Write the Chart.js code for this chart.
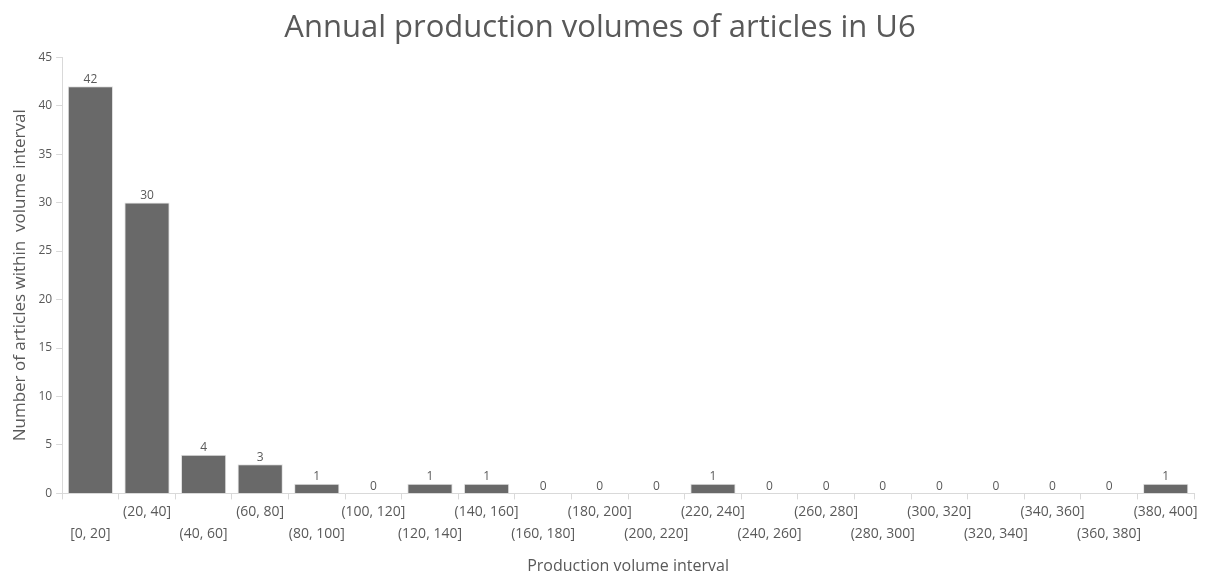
<!DOCTYPE html>
<html>
<head>
<meta charset="utf-8">
<script src="https://cdn.jsdelivr.net/npm/chart.js@4/dist/chart.umd.min.js"></script>
<style>
  html, body { margin: 0; padding: 0; background: #fff; }
  #wrap { width: 1206px; height: 578px; }
</style>
</head>
<body>
<div id="wrap"><canvas id="histChart"></canvas></div>
<script>
// Volume intervals and how many articles fall into each
const intervals = ['[0, 20]', '(20, 40]', '(40, 60]', '(60, 80]', '(80, 100]', '(100, 120]',
  '(120, 140]', '(140, 160]', '(160, 180]', '(180, 200]', '(200, 220]', '(220, 240]',
  '(240, 260]', '(260, 280]', '(280, 300]', '(300, 320]', '(320, 340]', '(340, 360]',
  '(360, 380]', '(380, 400]'];
const articleCounts = [42, 30, 4, 3, 1, 0, 1, 1, 0, 0, 0, 1, 0, 0, 0, 0, 0, 0, 0, 1];
const yTicks = [0, 5, 10, 15, 20, 25, 30, 35, 40, 45];

const textGray = '#595959';
const axisGray = '#d9d9d9';

// Alternate labels between two rows so they don't collide
const staggered = intervals.map((l, i) => i % 2 === 0 ? ['', l] : [l, '']);

// Value printed above every bar
const barValues = {
  id: 'barValues',
  afterDatasetsDraw(chart) {
    const ctx = chart.ctx;
    const meta = chart.getDatasetMeta(0);
    ctx.save();
    ctx.font = '12px "Open Sans"';
    ctx.fillStyle = textGray;
    ctx.textAlign = 'center';
    ctx.textBaseline = 'bottom';
    meta.data.forEach((bar, i) => {
      ctx.fillText(String(articleCounts[i]), bar.x, bar.y - 1);
    });
    ctx.restore();
  }
};

new Chart(document.getElementById('histChart'), {
  type: 'bar',
  data: {
    labels: staggered,
    datasets: [{
      data: articleCounts,
      backgroundColor: '#696969',
      borderColor: '#e3e3e3',
      borderWidth: 1,
      categoryPercentage: 1,
      barPercentage: 0.8
    }]
  },
  options: {
    responsive: true,
    maintainAspectRatio: false,
    animation: false,
    layout: { padding: { left: 6, right: 12, top: 10, bottom: 2 } },
    plugins: {
      legend: { display: false },
      tooltip: { enabled: false },
      title: {
        display: true,
        text: 'Annual production volumes of articles in U6',
        color: textGray,
        font: { family: 'Open Sans', size: 31, weight: 'normal' },
        padding: { top: 0, bottom: 10 }
      }
    },
    scales: {
      x: {
        offset: true,
        border: { color: axisGray },
        grid: { offset: true, drawOnChartArea: false, color: axisGray, tickLength: 6 },
        ticks: {
          autoSkip: false, maxRotation: 0, minRotation: 0,
          color: textGray, font: { family: 'Open Sans', size: 14, lineHeight: 1.55 }, padding: 2
        },
        title: {
          display: true, text: 'Production volume interval', color: textGray,
          font: { family: 'Open Sans', size: 16 }, padding: { top: 10, bottom: 0 }
        }
      },
      y: {
        min: 0, max: 45,
        border: { color: axisGray },
        grid: { drawOnChartArea: false, color: axisGray, tickLength: 6 },
        afterBuildTicks(axis) { axis.ticks = yTicks.map(v => ({ value: v })); },
        ticks: { color: textGray, font: { family: 'Open Sans', size: 12 }, padding: 4 },
        title: {
          display: true, text: 'Number of articles within  volume interval', color: textGray,
          font: { family: 'Open Sans', size: 17 }, padding: { bottom: 4 }
        }
      }
    }
  },
  plugins: [barValues]
});
</script>
</body>
</html>
